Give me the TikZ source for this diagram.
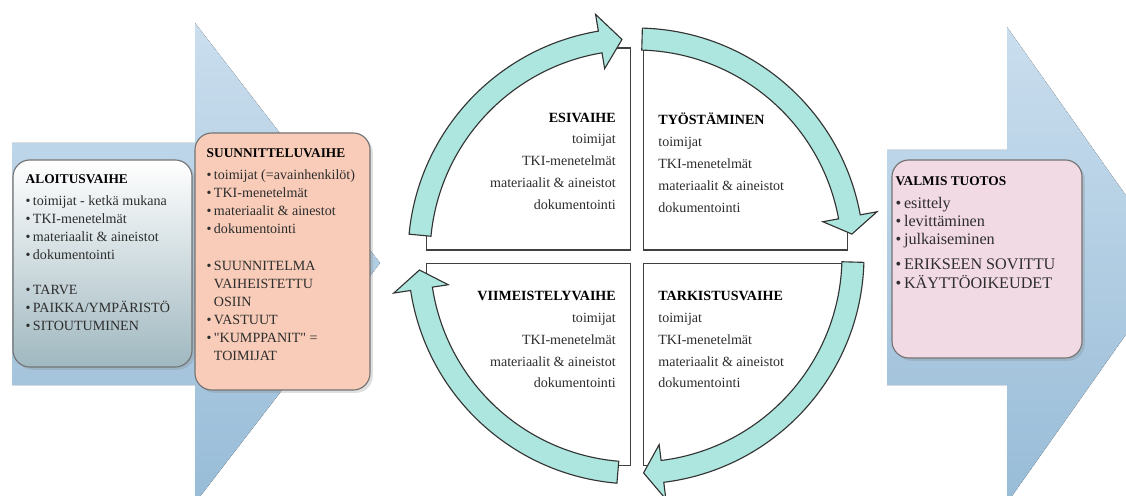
\documentclass[tikz,border=0pt]{standalone}
\usepackage{fontspec}
\setmainfont{Liberation Serif}
\usetikzlibrary{positioning,shadows}

\definecolor{arrowlight}{RGB}{202,222,238}
\definecolor{arrowdark}{RGB}{152,188,215}
\definecolor{ringfill}{RGB}{172,230,222}
\definecolor{peach}{RGB}{248,204,184}
\definecolor{pinkbox}{RGB}{242,218,228}
\definecolor{grayteal}{RGB}{160,184,192}
\definecolor{bodytext}{RGB}{45,45,45}

\newcommand{\bul}{\textbullet\,}
\newcommand{\ind}{\hphantom{\textbullet\,}}
% curved arrow of the cycle: tail angle, head angle, tip angle
\newcommand{\ringarrow}[3]{%
  \draw[ring] (#1:228) arc[start angle=#1, end angle=#2, radius=228]
    -- (#2:245) -- (#3:217) -- (#2:190) -- (#2:206)
    arc[start angle=#2, end angle=#1, radius=206] -- cycle;}

\begin{document}
\begin{tikzpicture}[x=0.025cm, y=0.025cm,
  bigarrow/.style={top color=arrowlight, bottom color=arrowdark, draw=none},
  phasebox/.style={rounded corners=12pt, draw=black!55, line width=0.8pt,
    drop shadow={shadow xshift=2pt, shadow yshift=-2pt, opacity=0.25}},
  quarter/.style={draw=black!75, line width=0.8pt, fill=white,
    minimum width=5.1cm, minimum height=5.05cm},
  ring/.style={fill=ringfill, draw=black!80, line width=0.8pt},
  listtext/.style={inner sep=0pt, align=left, text=bodytext,
    font=\fontsize{10}{12.8}\selectfont},
  quartertext/.style={inner sep=0pt, text=bodytext,
    font=\fontsize{10}{15.6}\selectfont}
]
\useasboundingbox (0,0) rectangle (1126,495);
\clip (0,0) rectangle (1126,495);

% big block arrows
\fill[bigarrow] (12,352) -- (195,352) -- (195,472) -- (380,232)
  -- (195,-8) -- (195,110) -- (12,110) -- cycle;
\fill[bigarrow] (887,345) -- (1007,345) -- (1007,468) -- (1175,230)
  -- (1007,-8) -- (1007,110) -- (887,110) -- cycle;

% phase boxes
\node[phasebox, top color=white, bottom color=grayteal,
  minimum width=4.475cm, minimum height=5.175cm] (aloitus) at (102.5,231.5) {};
\node[phasebox, fill=peach,
  minimum width=4.375cm, minimum height=6.425cm] (suunnittelu) at (282.5,233.5) {};
\node[phasebox, fill=pinkbox,
  minimum width=4.75cm, minimum height=4.95cm] (valmis) at (987,236) {};

\node[listtext, below right=0.375cm and 0.325cm of aloitus.north west] (aloitustext)
  {{\color{black}\fontsize{9.5}{12}\selectfont\bfseries ALOITUSVAIHE}\\[3pt]
   \bul toimijat - ketkä mukana\\
   \bul TKI-menetelmät\\
   \bul materiaalit \& aineistot\\
   \bul dokumentointi\\[12pt]
   \bul TARVE\\
   \bul PAIKKA/YMPÄRISTÖ\\
   \bul SITOUTUMINEN};
\node[listtext, below right=0.4cm and 0.3cm of suunnittelu.north west] (suunnittelutext)
  {{\color{black}\fontsize{9.5}{12}\selectfont\bfseries SUUNNITTELUVAIHE}\\[3pt]
   \bul toimijat (=avainhenkilöt)\\
   \bul TKI-menetelmät\\
   \bul materiaalit \& ainestot\\
   \bul dokumentointi\\[13pt]
   \bul SUUNNITELMA\\
   \ind VAIHEISTETTU\\
   \ind OSIIN\\
   \bul VASTUUT\\
   \bul \textquotedbl KUMPPANIT\textquotedbl{} =\\
   \ind TOIMIJAT};
\node[listtext, font=\fontsize{11.5}{13}\selectfont,
  below right=0.425cm and 0.1cm of valmis.north west] (valmistext)
  {{\color{black}\fontsize{9.5}{12}\selectfont\bfseries VALMIS TUOTOS}\\[3pt]
   \bul esittely\\
   \bul levittäminen\\
   \bul julkaiseminen\\[5pt]
   \bul ERIKSEEN SOVITTU\\
   \bul KÄYTTÖOIKEUDET};

% cycle quarters, corners hidden outside the ring
\begin{scope}
  \clip (636,239) circle[radius=228];
  \node[quarter] (esi) at (528.5,346) {};
  \node[quarter, right=0.3cm of esi] (tyo) {};
  \node[quarter, below=0.3cm of esi] (viim) {};
  \node[quarter, below=0.3cm of tyo] (tark) {};
\end{scope}

\begin{scope}[shift={(636,239)}]
  \ringarrow{174.5}{99.5}{93.7}
  \ringarrow{88.4}{10.4}{5.8}
  \ringarrow{-1.6}{-83}{-88}
  \ringarrow{-94.8}{-171.3}{-176.3}
\end{scope}

\node[quartertext, align=right, below left=1.625cm and 0.375cm of esi.north east] (esitext)
  {{\color{black}\bfseries ESIVAIHE}\\ toimijat\\ TKI-menetelmät\\
   materiaalit \& aineistot\\ dokumentointi};
\node[quartertext, align=left, below right=1.625cm and 0.375cm of tyo.north west] (tyotext)
  {{\color{black}\bfseries TYÖSTÄMINEN}\\ toimijat\\ TKI-menetelmät\\
   materiaalit \& aineistot\\ dokumentointi};
\node[quartertext, align=right, below left=0.7cm and 0.375cm of viim.north east] (viimtext)
  {{\color{black}\bfseries VIIMEISTELYVAIHE}\\ toimijat\\ TKI-menetelmät\\
   materiaalit \& aineistot\\ dokumentointi};
\node[quartertext, align=left, below right=0.7cm and 0.375cm of tark.north west] (tarktext)
  {{\color{black}\bfseries TARKISTUSVAIHE}\\ toimijat\\ TKI-menetelmät\\
   materiaalit \& aineistot\\ dokumentointi};
\end{tikzpicture}
\end{document}
